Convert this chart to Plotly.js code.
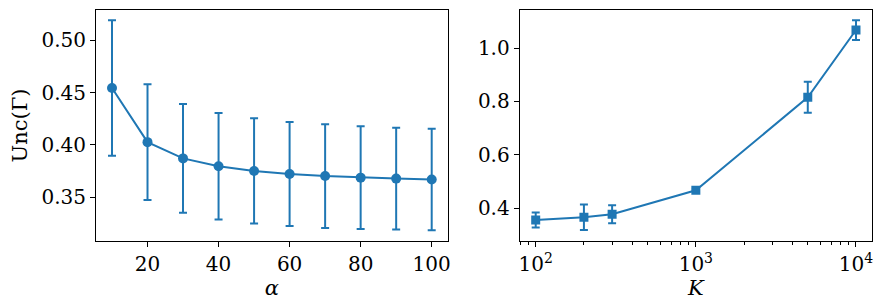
<!DOCTYPE html>
<html>
<head>
<meta charset="utf-8">
<script src="https://cdn.plot.ly/plotly-3.0.1.min.js"></script>
<style>html,body{margin:0;padding:0;background:#fff;}#chart{width:883px;height:308px;}</style>
</head>
<body>
<div id="chart"></div>
<script>
// Left panel: uncertainty vs alpha
const alphaValues = [10, 20, 30, 40, 50, 60, 70, 80, 90, 100];
const uncAlpha = [0.4544, 0.4027, 0.3872, 0.3797, 0.3752, 0.3723, 0.3703, 0.3688, 0.3679, 0.3670];
const errAlpha = [0.0648, 0.0553, 0.0520, 0.0508, 0.0503, 0.0496, 0.0496, 0.0490, 0.0486, 0.0485];

// Right panel: uncertainty vs K
const kValues = [100, 200, 300, 1000, 5000, 10000];
const uncK = [0.3563, 0.3663, 0.3775, 0.4675, 0.8155, 1.0675];
const errK = [0.028, 0.048, 0.034, 0.006, 0.058, 0.037];
const kTickVals = [100, 1000, 10000];
const kTickText = ["10<sup>2</sup>", "10<sup>3</sup>", "10<sup>4</sup>"];

const blue = "#1f77b4";
const font = {family: "DejaVu Serif", size: 20, color: "#000"};
const titleFont = {family: "DejaVu Serif", size: 21, color: "#000"};

const traces = [
  {
    x: alphaValues, y: uncAlpha, type: "scatter", mode: "lines+markers",
    line: {color: blue, width: 2},
    marker: {color: blue, size: 10, symbol: "circle"},
    error_y: {type: "data", array: errAlpha, visible: true, color: blue, thickness: 2, width: 4},
    xaxis: "x", yaxis: "y", showlegend: false
  },
  {
    x: kValues, y: uncK, type: "scatter", mode: "lines+markers",
    line: {color: blue, width: 2},
    marker: {color: blue, size: 9, symbol: "square"},
    error_y: {type: "data", array: errK, visible: true, color: blue, thickness: 2, width: 4},
    xaxis: "x2", yaxis: "y2", showlegend: false
  }
];

const axisCommon = {
  showline: true, mirror: true, linecolor: "#000", linewidth: 1,
  ticks: "outside", ticklen: 5, tickwidth: 1, tickcolor: "#000",
  showgrid: false, zeroline: false, tickfont: font
};

const layout = {
  width: 883, height: 308,
  margin: {l: 96, r: 11, t: 10, b: 67},
  paper_bgcolor: "#fff", plot_bgcolor: "#fff",
  font: font,
  xaxis: Object.assign({}, axisCommon, {
    domain: [0, 0.4532], range: [5.5, 104.5], dtick: 20, tick0: 0,
    title: {text: "<i>α</i>", font: titleFont, standoff: 0}
  }),
  yaxis: Object.assign({}, axisCommon, {
    domain: [0, 1], range: [0.3083, 0.5289], dtick: 0.05, tick0: 0, tickformat: ".2f",
    title: {text: "Unc(Γ)", font: titleFont, standoff: 8}
  }),
  xaxis2: Object.assign({}, axisCommon, {
    domain: [0.546, 1], type: "log", range: [1.9, 4.1],
    tickvals: kTickVals, ticktext: kTickText,
    minor: {ticks: "outside", ticklen: 3, tickwidth: 1, tickcolor: "#000", dtick: "D1", showgrid: false},
    title: {text: "<i>K</i>", font: titleFont, standoff: 0},
    anchor: "y2"
  }),
  yaxis2: Object.assign({}, axisCommon, {
    domain: [0, 1], range: [0.2775, 1.1425], dtick: 0.2, tick0: 0, tickformat: ".1f",
    anchor: "x2"
  })
};

Plotly.newPlot("chart", traces, layout, {displayModeBar: false, staticPlot: true});
</script>
</body>
</html>
